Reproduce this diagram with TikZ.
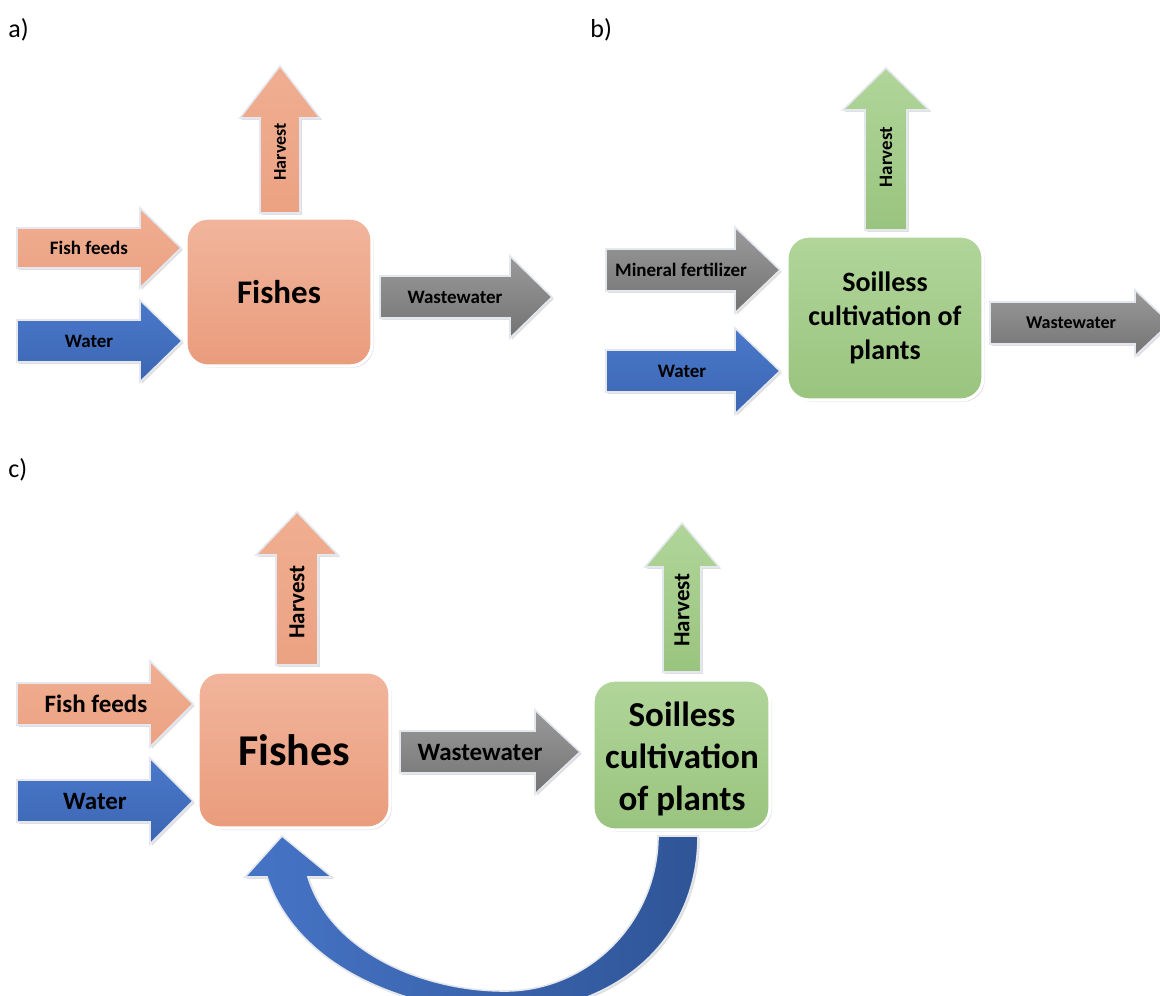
\documentclass[tikz,border=0pt]{standalone}
\usepackage{fontspec}
\setmainfont{Carlito}
\usetikzlibrary{shadows}
\definecolor{salT}{HTML}{F1B59C}
\definecolor{salB}{HTML}{EA9C7C}
\definecolor{salA}{HTML}{F0AE90}
\definecolor{salA2}{HTML}{EBA283}
\definecolor{grnT}{HTML}{B1D59A}
\definecolor{grnB}{HTML}{99C47E}
\definecolor{bluT}{HTML}{4A78CA}
\definecolor{bluB}{HTML}{3C66B3}
\definecolor{bluL}{HTML}{4674C6}
\definecolor{bluD}{HTML}{2F5597}
\definecolor{gryT}{HTML}{9A9A9A}
\definecolor{gryB}{HTML}{737373}
\definecolor{edge}{HTML}{E4E8EE}
\newcommand\blockR[7]{\path[#7] (#1,{#4-#5}) -- (#2,{#4-#5}) -- (#2,{#4-#6}) -- (#3,#4) -- (#2,{#4+#6}) -- (#2,{#4+#5}) -- (#1,{#4+#5}) -- cycle;}
\newcommand\blockU[7]{\path[#7] ({#1-#5},#2) -- ({#1-#5},#3) -- ({#1-#6},#3) -- (#1,#4) -- ({#1+#6},#3) -- ({#1+#5},#3) -- ({#1+#5},#2) -- cycle;}
\tikzset{
  shad/.style={drop shadow={opacity=0.25, shadow xshift=0.9pt, shadow yshift=-0.9pt}},
  arrbase/.style={draw=edge, line width=0.8pt, shad},
  salarr/.style={arrbase, top color=salA, bottom color=salA2},
  grnarr/.style={arrbase, top color=grnT, bottom color=grnB},
  bluarr/.style={arrbase, top color=bluT, bottom color=bluB},
  gryarr/.style={arrbase, top color=gryT, bottom color=gryB},
  boxbase/.style={draw=white, line width=1.6pt, rounded corners=11pt, shad, align=center, inner sep=0pt, font=\bfseries},
  fishbox/.style={boxbase, top color=salT, bottom color=salB},
  plantbox/.style={boxbase, top color=grnT, bottom color=grnB},
  lblS/.style={font=\bfseries\fontsize{9.5}{11}\selectfont, inner sep=0pt},
  lblL/.style={font=\bfseries\fontsize{12.5}{14}\selectfont, inner sep=0pt},
  panel/.style={font=\fontsize{13}{15}\selectfont, inner sep=0pt, anchor=west},
}
\begin{document}
\begin{tikzpicture}[x=0.5pt,y=-0.5pt]
\clip (0,0) rectangle (1160,995);
\fill[white] (0,0) rectangle (1160,995);

% ---------- panel a ----------
\node[panel] (la) at (8,30) {a)};
\blockR{17}{140}{181}{248}{20}{40}{salarr}
\blockR{17}{140}{182}{341}{21}{41}{bluarr}
\blockU{280}{213}{118}{66}{20}{40}{salarr}
\blockR{380}{510}{552}{297}{21}{41}{gryarr}
\node[fishbox, minimum width=93pt, minimum height=74pt, font=\bfseries\fontsize{16.5}{19}\selectfont] (aFish) at (279,292) {Fishes};
\node[lblS] (aFeed) at (89,248) {Fish feeds};
\node[lblS] (aWater) at (89,341) {Water};
\node[lblS, rotate=90, font=\bfseries\fontsize{9}{11}\selectfont] (aHarv) at (280,152) {Harvest};
\node[lblS] (aWaste) at (455,297) {Wastewater};

% ---------- panel b ----------
\node[panel] (lb) at (590,30) {b)};
\blockR{606}{735}{780}{270}{21}{43}{gryarr}
\blockR{606}{735}{780}{371}{21}{43}{bluarr}
\blockU{886}{230}{110}{68}{21}{43}{grnarr}
\blockR{990}{1135}{1170}{323}{21}{33}{gryarr}
\node[plantbox, minimum width=98pt, minimum height=82pt, font=\bfseries\fontsize{14}{17}\selectfont] (bPlant) at (885,318) {Soilless\\cultivation of\\plants};
\node[lblS] (bMin) at (681,270) {Mineral fertilizer};
\node[lblS] (bWater) at (682,371) {Water};
\node[lblS, rotate=90] (bHarv) at (886,157) {Harvest};
\node[lblS, font=\bfseries\fontsize{9}{11}\selectfont] (bWaste) at (1071,323) {Wastewater};

% ---------- panel c ----------
\node[panel] (lc) at (8,470) {c)};
\blockR{17}{150}{193}{704}{21}{43}{salarr}
\blockR{17}{150}{193}{801}{21}{43}{bluarr}
\blockU{297}{665}{555}{512}{21}{41}{salarr}
\blockR{400}{535}{580}{752}{21}{42}{gryarr}
\blockU{682}{672}{567}{523}{19}{37}{grnarr}
% recirculation arrow
\path[draw=edge, line width=0.8pt, left color=bluL, right color=bluD, shad]
  (698,836) .. controls (698,945) and (610,1012) .. (505,1012)
  .. controls (420,1012) and (300,975) .. (267,877)
  -- (245,877) -- (282,836) -- (332,877) -- (308,877)
  .. controls (330,950) and (420,991) .. (505,991)
  .. controls (590,991) and (658,920) .. (658,836) -- cycle;
\node[fishbox, minimum width=96pt, minimum height=78pt, font=\bfseries\fontsize{22}{25}\selectfont] (cFish) at (294,750) {Fishes};
\node[plantbox, minimum width=88.5pt, minimum height=75pt] (cPlant) at (681.5,755) {};
\node[font=\bfseries\fontsize{17.5}{21}\selectfont, align=center, inner sep=0pt] (cPlantTxt) at (682,759) {Soilless\\cultivation\\of plants};
\node[lblL] (cFeed) at (96,704) {Fish feeds};
\node[lblL] (cWater) at (95,801) {Water};
\node[lblL, rotate=90, font=\bfseries\fontsize{11.5}{13}\selectfont] (cHarv) at (297,602) {Harvest};
\node[lblL] (cWaste) at (480,752) {Wastewater};
\node[lblL, rotate=90, font=\bfseries\fontsize{11.5}{13}\selectfont] (cHarv2) at (682,610) {Harvest};
\end{tikzpicture}
\end{document}
